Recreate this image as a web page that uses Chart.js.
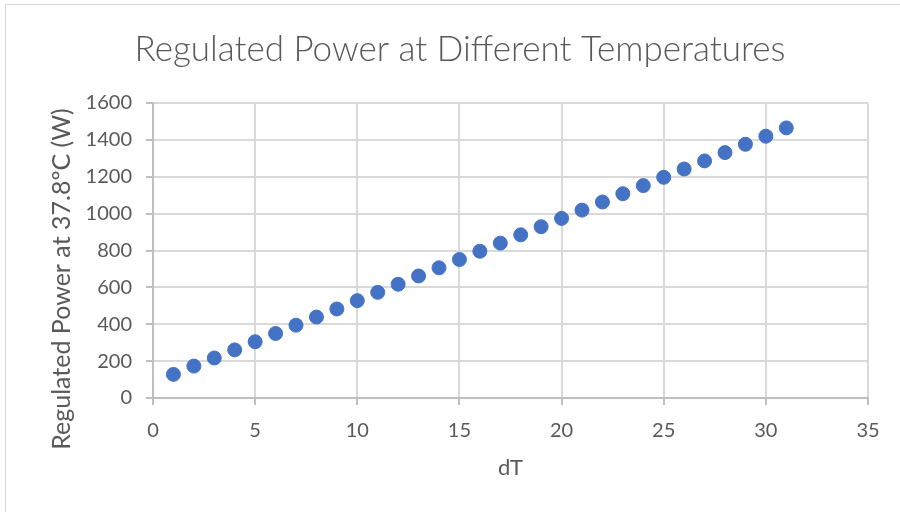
<!DOCTYPE html>
<html>
<head>
<meta charset="utf-8">
<script src="https://cdn.jsdelivr.net/npm/chart.js@4"></script>
<style>
    html, body { margin: 0; padding: 0; background: #fff; }
    #wrap { position: relative; width: 900px; height: 512px; overflow: hidden; }
    #frame { position: absolute; left: 5px; top: 4px; width: 920px; height: 540px; border: 1px solid #d9d9d9; box-sizing: border-box; }
    #chart_power { position: absolute; left: 0; top: 0; }
</style>
</head>
<body>
<div id="wrap">
    <div id="frame"></div>
    <canvas id="chart_power" width="900" height="512"></canvas>
</div>
<script>
// dT 값
const dtList = [1, 2, 3, 4, 5, 6, 7, 8, 9, 10, 11, 12, 13, 14, 15, 16, 17, 18, 19, 20, 21, 22, 23, 24, 25, 26, 27, 28, 29, 30, 31];
// 37.8도 기준 조절 전력 (W)
const powerList = [128, 173, 217, 261, 305, 350, 395, 439, 483, 528, 573, 617, 662, 706, 751, 796, 840, 885, 929, 974, 1019, 1063, 1108, 1152, 1197, 1242, 1286, 1331, 1376, 1420, 1465];
// 축 눈금
const xTicks = [0, 5, 10, 15, 20, 25, 30, 35];
const yTicks = [0, 200, 400, 600, 800, 1000, 1200, 1400, 1600];

const txtColor = "#595959";
const gridColor = "#d9d9d9";
const fontName = "Lato, 'Open Sans', sans-serif";
const yTitleText = "Regulated Power at 37.8ºC (W)";

/**
 * Y축 제목 (엑셀처럼 차트 전체 높이 기준 가운데)
 */
const yTitlePlugin = {
    id: 'yTitle',
    afterDraw(chart) {
        const ctx = chart.ctx;
        ctx.save();
        ctx.translate(62, 279);
        ctx.rotate(-Math.PI / 2);
        ctx.fillStyle = txtColor;
        ctx.font = "25px " + fontName;
        ctx.textAlign = 'center';
        ctx.textBaseline = 'middle';
        ctx.fillText(yTitleText, 0, 0);
        ctx.restore();
    }
};

/**
 * 산점도 옵션
 */
function setScatterConfig() {
    let pointList = dtList.map((x, i) => ({ x: x, y: powerList[i] }));
    let config = {
        type: 'scatter',
        data: {
            datasets: [{
                label: 'Regulated Power',
                data: pointList,
                backgroundColor: "#4472C4",
                borderColor: "#4472C4",
                borderWidth: 1,
                pointRadius: 7,
                pointHoverRadius: 7
            }]
        },
        options: {
            responsive: false,
            animation: { duration: 0 },
            layout: { padding: { left: 52, right: 32, top: 0, bottom: 0 } },
            plugins: {
                legend: { display: false },
                tooltip: { enabled: false },
                title: {
                    display: true,
                    text: "Regulated Power at Different Temperatures",
                    color: txtColor,
                    font: { family: fontName, size: 35, weight: '300' },
                    padding: { top: 29, bottom: 32 }
                }
            },
            scales: {
                x: {
                    type: 'linear',
                    min: 0,
                    max: 35,
                    afterBuildTicks: (axis) => { axis.ticks = xTicks.map(v => ({ value: v })); },
                    afterFit: (axis) => { axis.height = 114; },
                    ticks: {
                        color: txtColor,
                        font: { family: fontName, size: 20 },
                        padding: 14,
                        maxRotation: 0,
                        callback: (v) => String(v)
                    },
                    grid: {
                        color: gridColor,
                        lineWidth: 2,
                        tickLength: 7,
                        tickColor: "#bfbfbf"
                    },
                    border: { color: "#bfbfbf", width: 2 },
                    title: {
                        display: true,
                        text: "dT",
                        color: txtColor,
                        font: { family: fontName, size: 22 },
                        padding: { top: 0, bottom: 31 }
                    }
                },
                y: {
                    min: 0,
                    max: 1600,
                    afterBuildTicks: (axis) => { axis.ticks = yTicks.map(v => ({ value: v })); },
                    afterFit: (axis) => { axis.width = 101; },
                    ticks: {
                        color: txtColor,
                        font: { family: fontName, size: 20 },
                        padding: 14,
                        callback: (v) => String(v)
                    },
                    grid: {
                        color: gridColor,
                        lineWidth: 2,
                        tickLength: 7,
                        tickColor: "#bfbfbf"
                    },
                    border: { color: "#bfbfbf", width: 2 },
                    title: { display: false }
                }
            }
        },
        plugins: [yTitlePlugin]
    };
    return config;
}

let powerChart = new Chart(document.getElementById("chart_power"), setScatterConfig());
</script>
</body>
</html>
